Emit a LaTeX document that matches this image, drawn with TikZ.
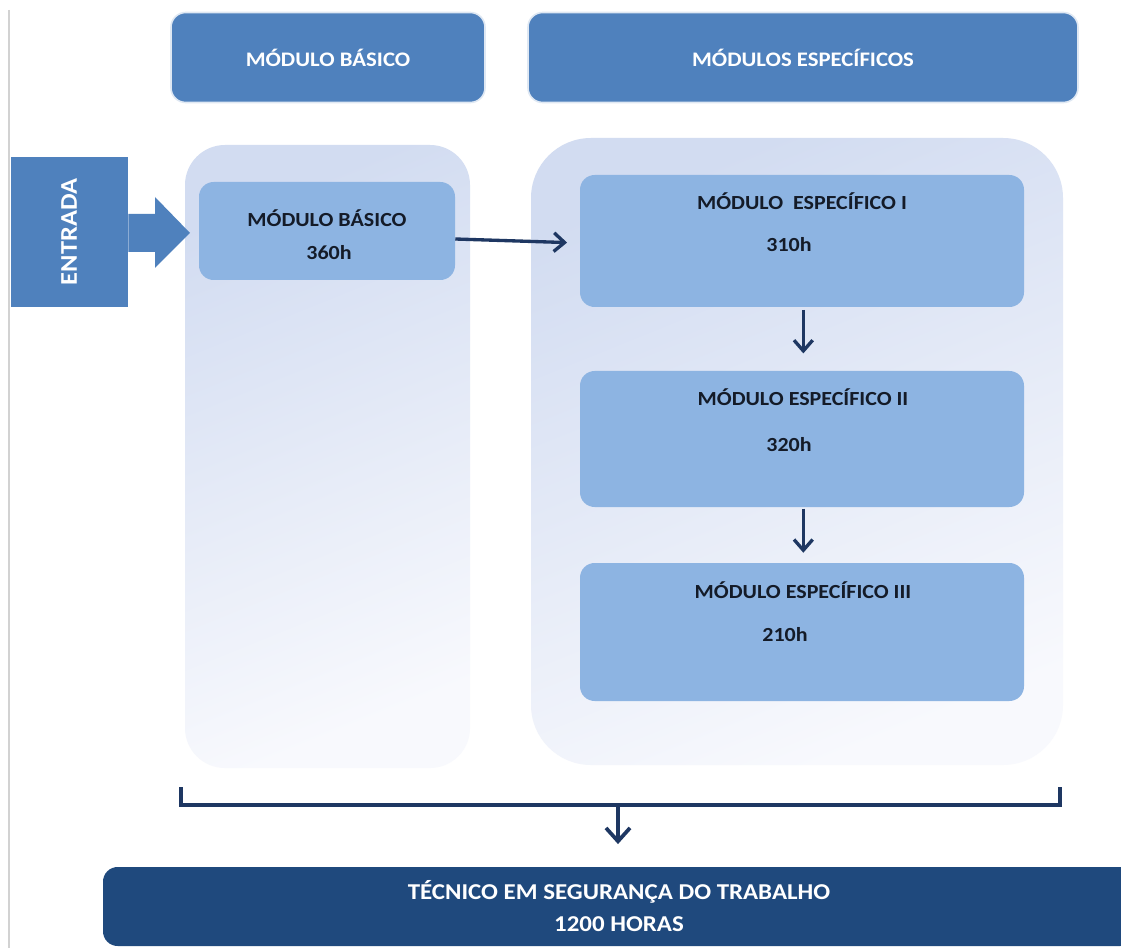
\documentclass[tikz,border=0pt]{standalone}
\usepackage{fontspec}
\setmainfont{Carlito}[FakeStretch=1.1]
\usetikzlibrary{arrows.meta,calc}

\definecolor{headblue}{RGB}{79,129,189}
\definecolor{modblue}{RGB}{141,180,226}
\definecolor{navy}{RGB}{31,73,125}
\definecolor{linenavy}{RGB}{30,55,98}
\definecolor{textdark}{RGB}{20,27,40}
\definecolor{contop}{RGB}{210,220,241}
\definecolor{conmid}{RGB}{193,208,237}
\definecolor{conbot}{RGB}{248,249,253}

\begin{document}
\begin{tikzpicture}[x=0.75pt,y=-0.75pt,
    header/.style={rectangle, rounded corners=11pt, fill=headblue, draw=headblue!18,
        line width=1.2pt, text=white, inner sep=0pt, minimum height=67.5pt,
        font=\bfseries\fontsize{15.5}{18}\selectfont},
    modbox/.style={rectangle, rounded corners=11pt, fill=modblue, inner sep=0pt,
        minimum width=333pt},
    title/.style={inner sep=0pt, text=textdark, text height=9.6pt, text depth=0pt,
        font=\bfseries\fontsize{15}{18}\selectfont},
    arr/.style={-{Straight Barb[length=8pt,width=14pt]}, line width=2.5pt, draw=linenavy}]

    % Page
    \useasboundingbox (0,0) rectangle (1121,948);
    \fill[white] (0,0) rectangle (1121,948);
    \draw[gray!35, line width=0.8pt] (9,10) -- (9,948);

    % Headers
    \node[header, minimum width=235.5pt] (hbasico) at (328,57.5) {MÓDULO BÁSICO};
    \node[header, minimum width=412.5pt] (hespec) at (803,57.5) {MÓDULOS ESPECÍFICOS};

    % Columns
    \shade[rounded corners=30pt, top color=contop, middle color=conmid, bottom color=conbot,
        shading angle=22] (185,145) rectangle (470,768);
    \shade[rounded corners=45pt, top color=contop, middle color=conmid, bottom color=conbot,
        shading angle=22] (531,138) rectangle (1063,765);

    % Entrada
    \node[rectangle, fill=headblue, minimum width=87.75pt, minimum height=112.5pt,
        inner sep=0pt] (entrada) at (69.5,232) {};
    \fill[headblue] (entrada.east |- 0,214) -- (155,214) -- (155,197) -- (190,233)
        -- (155,268) -- (155,252) -- (entrada.east |- 0,252) -- cycle;
    \node[rotate=90, text=white, inner sep=0pt, text height=11pt, text depth=0pt,
        font=\bfseries\fontsize{18}{20}\selectfont] (entradatxt) at (entrada) {ENTRADA};

    % Modules
    \node[modbox, minimum width=192pt, minimum height=73.5pt] (basico) at (327,231) {};
    \node[title] (basicot) at ($(basico.north)+(0,38)$) {MÓDULO BÁSICO};
    \node[title] (basicoh) at ($(basico.north)+(2,71)$) {360h};

    \node[modbox, minimum height=99pt] (espI) at (802,241) {};
    \node[title] (espIt) at ($(espI.north)+(0,28)$) {MÓDULO~~ESPECÍFICO I};
    \node[title] (espIh) at ($(espI.north)+(-13,70)$) {310h};

    \node[modbox, minimum height=102pt] (espII) at (802,439) {};
    \node[title] (espIIt) at ($(espII.north)+(1,28)$) {MÓDULO ESPECÍFICO II};
    \node[title] (espIIh) at ($(espII.north)+(-13,74)$) {320h};

    \node[modbox, minimum height=103.5pt] (espIII) at (802,632) {};
    \node[title] (espIIIt) at ($(espIII.north)+(1,29)$) {MÓDULO ESPECÍFICO III};
    \node[title] (espIIIh) at ($(espIII.north)+(-17,72)$) {210h};

    % Flow
    \draw[arr, shorten >=9.5pt] ([yshift=-6pt]basico.east) -- ([yshift=-1.5pt]espI.west);
    \draw[arr, shorten <=2pt, shorten >=13pt] ([xshift=1pt]espI.south) -- ([xshift=1pt]espII.north);
    \draw[arr, shorten <=1pt, shorten >=7.5pt] ([xshift=1pt]espII.south) -- ([xshift=1pt]espIII.north);

    % Result
    \node[rectangle, rounded corners=11pt, fill=navy, text=white, align=center,
        minimum width=774pt, minimum height=59.25pt, inner sep=0pt,
        font=\bfseries\fontsize{17}{24}\selectfont] (tecnico) at (619,906.5)
        {TÉCNICO EM SEGURANÇA DO TRABALHO\\1200 HORAS};
    \coordinate (bl) at (181,787);
    \coordinate (br) at (1060,787);
    \coordinate (bmid) at (618,805);
    \draw[linenavy, line width=2.4pt] (bl) -- (bl |- bmid) -- (br |- bmid) -- (br);
    \draw[-{Straight Barb[length=10pt,width=18pt]}, line width=2.8pt, draw=linenavy,
        shorten >=17pt] (bmid) -- (bmid |- tecnico.north);
\end{tikzpicture}
\end{document}
